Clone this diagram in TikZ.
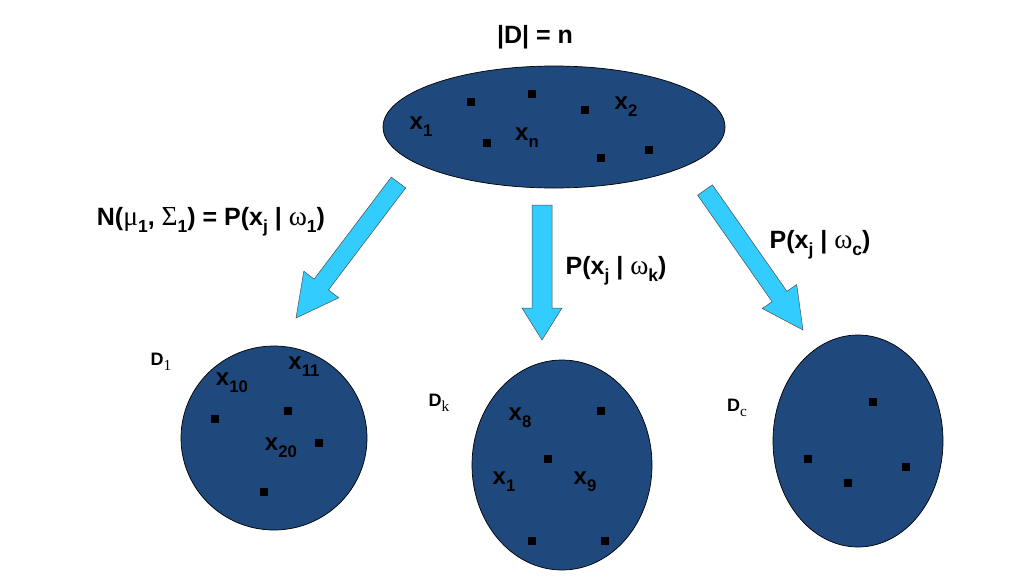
\documentclass[tikz,border=0pt]{standalone}
\usepackage{graphicx}
\usepackage{fontspec}
\setmainfont{Liberation Sans}
\newfontfamily\grk{Liberation Serif}
\usetikzlibrary{shapes.geometric}
\newcommand{\sbs}[1]{\raisebox{-0.28em}{\scalebox{0.7}{#1}}}
\newcommand{\dsub}[1]{\raisebox{-0.3em}{\scalebox{0.85}{\grk\mdseries #1}}}
\newcommand{\gk}[1]{{\grk\mdseries\scalebox{1.1}{#1}}}
\definecolor{setblue}{RGB}{31,72,124}
\definecolor{arrblue}{RGB}{51,204,255}
\tikzset{
  setshape/.style={ellipse, draw=black, line width=0.7pt, fill=setblue, inner sep=0pt},
  pt/.style={rectangle, fill=black, minimum size=8pt, inner sep=0pt},
  elab/.style={font=\fontsize{24}{26}\selectfont\bfseries, inner sep=0pt},
  biglab/.style={font=\fontsize{25}{28}\selectfont\bfseries, inner sep=0pt},
  dlab/.style={font=\fontsize{18}{20}\selectfont\bfseries, inner sep=0pt},
  barrow/.style={fill=arrblue, draw=black!70, line width=0.5pt, line join=miter}
}
\begin{document}
\begin{tikzpicture}[x=1pt, y=-1pt]
\useasboundingbox (0,0) rectangle (1010,584);
% top set
\node[setshape, minimum width=342pt, minimum height=122pt] (top) at (554,127) {};
\node[biglab] (card) at (535,37) {|D| = n};
\foreach \i/\p in {a/{471,102}, b/{532,94}, c/{585,110}, d/{487,143}, e/{601,158}, f/{649,150}}
  \node[pt] (t\i) at (\p) {};
\node[elab] (tx1) at (421,127) {x\sbs{1}};
\node[elab] (txn) at (527,138) {x\sbs{n}};
\node[elab] (tx2) at (626,107) {x\sbs{2}};
% left set
\node[setshape, minimum width=186pt, minimum height=184pt] (d1) at (274,438) {};
\node[dlab] (d1lab) at (161,362) {D\dsub{1}};
\foreach \i/\p in {a/{215,419}, b/{288,411}, c/{319,443}, d/{264,492}}
  \node[pt] (l\i) at (\p) {};
\node[elab] (lx10) at (232,383) {x\sbs{10}};
\node[elab] (lx11) at (304,367) {x\sbs{11}};
\node[elab] (lx20) at (281,448) {x\sbs{20}};
% middle set
\node[setshape, minimum width=180pt, minimum height=210pt] (dk) at (562,465) {};
\node[dlab] (dklab) at (439,403) {D\dsub{k}};
\foreach \i/\p in {a/{601,411}, b/{548,459}, c/{532,541}, d/{605,541}}
  \node[pt] (m\i) at (\p) {};
\node[elab] (mx8) at (520,418) {x\sbs{8}};
\node[elab] (mx1) at (504,482) {x\sbs{1}};
\node[elab] (mx9) at (585,482) {x\sbs{9}};
% right set
\node[setshape, minimum width=170pt, minimum height=212pt] (dc) at (858,441) {};
\node[dlab] (dclab) at (737,408) {D\dsub{c}};
\foreach \i/\p in {a/{873,402}, b/{808,459}, c/{848,483}, d/{906,467}}
  \node[pt] (r\i) at (\p) {};
% arrows
\draw[barrow] (391.3,177.1) -- (405.7,187.9) -- (328.5,289.9) -- (338.8,297.8) -- (296,318)
  -- (303.8,271.2) -- (314.1,279.1) -- cycle;
\draw[barrow] (532,205) -- (552,205) -- (552,308) -- (562,308) -- (542,340) -- (522,308) -- (532,308) -- cycle;
\draw[barrow] (697.6,195.2) -- (712.4,184.8) -- (786.9,291.3) -- (796.7,284.5) -- (803,330)
  -- (762.3,308.5) -- (772.1,301.7) -- cycle;
% arrow labels
\node[biglab] (lab1) at (211,222) {N(\gk{μ}\sbs{1}, \gk{Σ}\sbs{1}) = P(x\sbs{j} | \gk{ω}\sbs{1})};
\node[biglab] (labk) at (616,271) {P(x\sbs{j} | \gk{ω}\sbs{k})};
\node[biglab] (labc) at (820,245) {P(x\sbs{j} | \gk{ω}\sbs{c})};
\end{tikzpicture}
\end{document}
